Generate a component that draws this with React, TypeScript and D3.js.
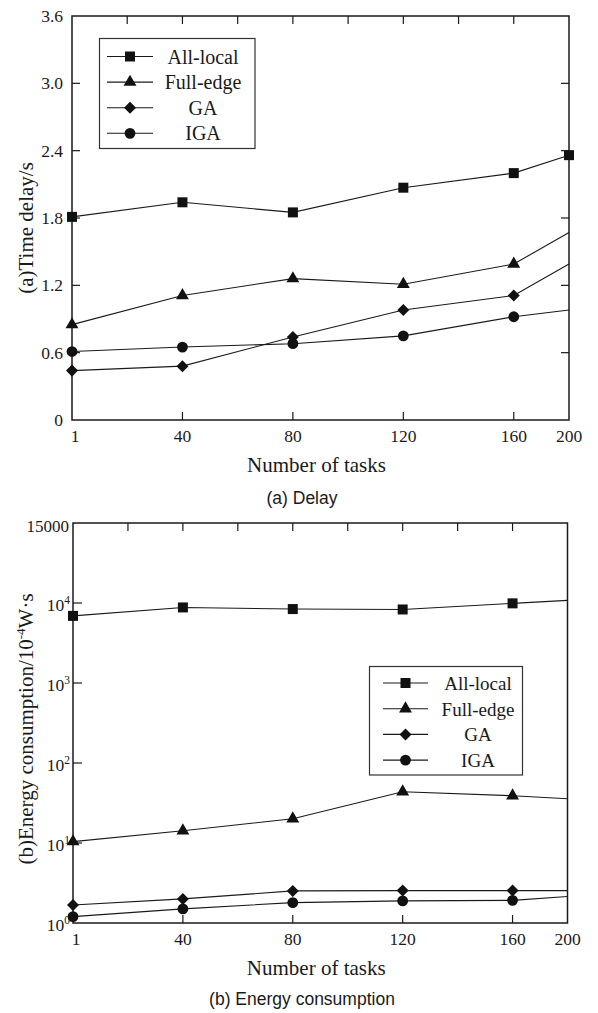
import * as d3 from 'd3';
import { useEffect, useRef } from 'react';

// x positions: "1".."160" sit on a linear 0..160 scale, the "200" label is squeezed onto the right border
const taskLabels = ['1', '40', '80', '120', '160', '200'];
const taskSlots = [0, 40, 80, 120, 160, 180];
const seriesNames = ['All-local', 'Full-edge', 'GA', 'IGA'];
const markerShapes = [d3.symbolSquare, d3.symbolTriangle, d3.symbolDiamond2, d3.symbolCircle];
const markerSizes = [100, 72, 92, 92];

// (a) delay, seconds
const delayAllLocal = [1.81, 1.94, 1.85, 2.07, 2.2, 2.36];
const delayFullEdge = [0.85, 1.11, 1.26, 1.21, 1.39, 1.67];
const delayGA = [0.44, 0.48, 0.74, 0.98, 1.11, 1.39];
const delayIGA = [0.61, 0.65, 0.68, 0.75, 0.92, 0.98];
const delayTicks = [0, 0.6, 1.2, 1.8, 2.4, 3.0, 3.6];
const delayTickLabels = ['0', '0.6', '1.2', '1.8', '2.4', '3.0', '3.6'];

// (b) energy consumption, 10^-4 W·s (log axis)
const energyAllLocal = [6900, 8800, 8400, 8300, 9900, 10800];
const energyFullEdge = [10.4, 14.2, 20.1, 43.8, 39, 35.8];
const energyGA = [1.68, 2.0, 2.52, 2.54, 2.54, 2.54];
const energyIGA = [1.2, 1.5, 1.8, 1.89, 1.92, 2.14];
const energyExpTicks = [0, 1, 2, 3, 4];
const energyTopTick = 100000;
const energyTopLabel = '15000';

const serif = '"Liberation Serif", "Times New Roman", serif';
const sans = '"Liberation Sans", Arial, sans-serif';
const ink = '#1a1a1a';

const drawChart = (svg, opt) => {
    const { box, series, y, edgeMarkers } = opt;
    const g = svg.append('g');

    const x = d3.scaleLinear().domain([0, 180]).range([box.left, box.right]);

    // frame
    g.append('rect')
        .attr('x', box.left).attr('y', box.top)
        .attr('width', box.right - box.left).attr('height', box.bottom - box.top)
        .attr('fill', 'none').attr('stroke', ink).attr('stroke-width', 1.5);

    // top ticks every 20, bottom ticks on labelled values
    d3.range(20, 180, 20).forEach(v => {
        g.append('line').attr('x1', x(v)).attr('x2', x(v))
            .attr('y1', box.top).attr('y2', box.top + 8)
            .attr('stroke', ink).attr('stroke-width', 1.2);
    });
    taskSlots.slice(1, 5).forEach(v => {
        g.append('line').attr('x1', x(v)).attr('x2', x(v))
            .attr('y1', box.bottom).attr('y2', box.bottom - 8)
            .attr('stroke', ink).attr('stroke-width', 1.2);
    });
    g.selectAll(null).data(taskLabels).enter().append('text')
        .attr('x', (d, i) => x(taskSlots[i]) + (i === 0 ? 3 : 0))
        .attr('y', box.bottom + 22)
        .attr('text-anchor', 'middle')
        .attr('font-family', serif).attr('font-size', 17.5).attr('fill', ink)
        .text(d => d);

    // y ticks + labels
    opt.yTicks(g, y);

    // lines + markers
    const line = d3.line()
        .x((d, i) => x(taskSlots[i]))
        .y(d => y(d));
    series.forEach((vals, s) => {
        g.append('path').datum(vals)
            .attr('d', line)
            .attr('fill', 'none').attr('stroke', ink).attr('stroke-width', 1.1);
        const shown = vals.map((v, i) => ({ v, i })).filter(p => p.i < 5 || edgeMarkers[s]);
        g.selectAll(null).data(shown).enter().append('path')
            .attr('d', d3.symbol().type(markerShapes[s]).size(markerSizes[s]))
            .attr('transform', p => `translate(${x(taskSlots[p.i])},${y(p.v)})`)
            .attr('fill', '#111');
    });

    // axis titles
    g.append('text')
        .attr('x', (box.left + box.right) / 2 - 4)
        .attr('y', box.bottom + 52)
        .attr('text-anchor', 'middle')
        .attr('font-family', serif).attr('font-size', 21).attr('fill', ink)
        .text('Number of tasks');

    const yl = g.append('text')
        .attr('transform', `translate(33,${(box.top + box.bottom) / 2 + opt.yLabelShift}) rotate(-90)`)
        .attr('text-anchor', 'middle')
        .attr('font-family', serif).attr('font-size', 21).attr('fill', ink);
    opt.yLabel(yl);

    g.append('text')
        .attr('x', 302)
        .attr('y', box.bottom + opt.captionGap)
        .attr('text-anchor', 'middle')
        .attr('font-family', sans).attr('font-size', 17.5).attr('fill', ink)
        .text(opt.caption);

    // legend
    const lg = opt.legend;
    g.append('rect')
        .attr('x', lg.left).attr('y', lg.top)
        .attr('width', lg.right - lg.left).attr('height', lg.bottom - lg.top)
        .attr('fill', '#fff').attr('stroke', '#333').attr('stroke-width', 1.2);
    seriesNames.forEach((name, s) => {
        const ry = lg.firstRow + s * lg.rowStep;
        g.append('line')
            .attr('x1', lg.lineX0).attr('x2', lg.lineX1).attr('y1', ry).attr('y2', ry)
            .attr('stroke', ink).attr('stroke-width', 1.1);
        g.append('path')
            .attr('d', d3.symbol().type(markerShapes[s]).size(markerSizes[s]))
            .attr('transform', `translate(${(lg.lineX0 + lg.lineX1) / 2},${ry})`)
            .attr('fill', '#111');
        g.append('text')
            .attr('x', lg.textX).attr('y', ry + 7)
            .attr('text-anchor', 'middle')
            .attr('font-family', serif).attr('font-size', lg.fontSize).attr('fill', ink)
            .text(name);
    });
};

const App = () => {
    const svgRef = useRef(null);

    useEffect(() => {
        const svg = d3.select(svgRef.current);
        svg.selectAll('*').remove();

        // ---- (a) Delay ----
        const boxA = { left: 72, right: 569, top: 16, bottom: 420 };
        const yA = d3.scaleLinear().domain([0, 3.6]).range([boxA.bottom, boxA.top]);
        drawChart(svg, {
            box: boxA,
            y: yA,
            series: [delayAllLocal, delayFullEdge, delayGA, delayIGA],
            edgeMarkers: [true, false, false, false],
            yLabelShift: 10,
            captionGap: 84,
            caption: '(a) Delay',
            yTicks: (g, y) => {
                delayTicks.forEach((v, i) => {
                    if (i > 0 && i < delayTicks.length - 1) {
                        g.append('line').attr('x1', boxA.left).attr('x2', boxA.left + 8)
                            .attr('y1', y(v)).attr('y2', y(v)).attr('stroke', ink).attr('stroke-width', 1.2);
                        g.append('line').attr('x1', boxA.right).attr('x2', boxA.right - 8)
                            .attr('y1', y(v)).attr('y2', y(v)).attr('stroke', ink).attr('stroke-width', 1.2);
                    }
                    g.append('text')
                        .attr('x', 63).attr('y', y(v) + 6)
                        .attr('text-anchor', 'end')
                        .attr('font-family', serif).attr('font-size', 17.5).attr('fill', ink)
                        .text(delayTickLabels[i]);
                });
            },
            yLabel: t => t.text('(a)Time delay/s'),
            legend: {
                left: 99.5, right: 255, top: 38.5, bottom: 148.5,
                firstRow: 56.5, rowStep: 25.6, lineX0: 107, lineX1: 153, textX: 203, fontSize: 20
            }
        });

        // ---- (b) Energy consumption ----
        const boxB = { left: 73, right: 567.5, top: 523, bottom: 923 };
        const yB = d3.scaleLog().domain([1, energyTopTick]).range([boxB.bottom, boxB.top]);
        drawChart(svg, {
            box: boxB,
            y: yB,
            series: [energyAllLocal, energyFullEdge, energyGA, energyIGA],
            edgeMarkers: [false, false, false, false],
            yLabelShift: 6,
            captionGap: 82,
            caption: '(b) Energy consumption',
            yTicks: (g, y) => {
                energyExpTicks.forEach(e => {
                    const v = Math.pow(10, e);
                    if (e > 0) {
                        g.append('line').attr('x1', boxB.left).attr('x2', boxB.left + 9)
                            .attr('y1', y(v)).attr('y2', y(v)).attr('stroke', ink).attr('stroke-width', 1.2);
                    }
                    const t = g.append('text')
                        .attr('x', 70).attr('y', y(v) + 8)
                        .attr('text-anchor', 'end')
                        .attr('font-family', serif).attr('font-size', 17.5).attr('fill', ink);
                    t.append('tspan').text('10');
                    t.append('tspan').attr('dy', -7).attr('font-size', 11.5).text(String(e));
                });
                g.append('text')
                    .attr('x', 69).attr('y', y(energyTopTick) + 9)
                    .attr('text-anchor', 'end')
                    .attr('font-family', serif).attr('font-size', 17).attr('fill', ink)
                    .text(energyTopLabel);
            },
            yLabel: t => {
                t.append('tspan').text('(b)Energy consumption/10');
                t.append('tspan').attr('dy', -8).attr('font-size', 13).text('-4');
                t.append('tspan').attr('dy', 8).text('W·s');
            },
            legend: {
                left: 369.5, right: 522.5, top: 666.5, bottom: 775,
                firstRow: 683, rowStep: 25.7, lineX0: 383, lineX1: 428, textX: 478, fontSize: 19
            }
        });
    }, []);

    return (
        <svg ref={svgRef} width={598} height={1013}
            style={{ position: 'absolute', left: 0, top: 0, background: '#fff' }} />
    );
};

export default App;
